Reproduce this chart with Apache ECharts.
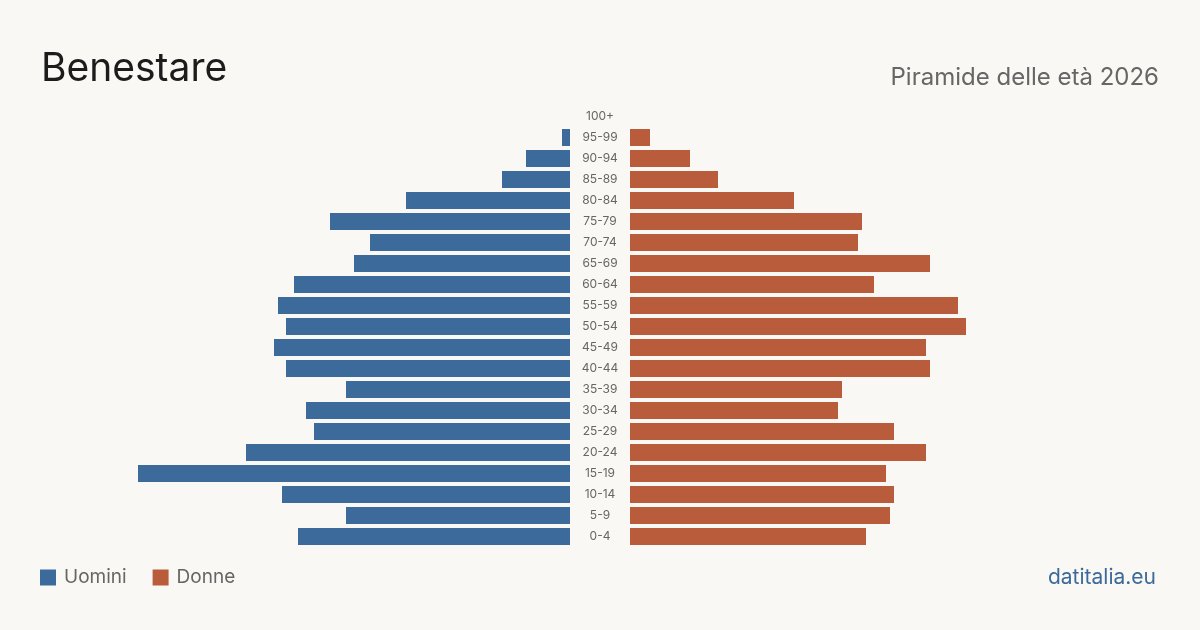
<!DOCTYPE html>
<html>
<head>
<meta charset="utf-8">
<script src="https://cdn.jsdelivr.net/npm/echarts@6/dist/echarts.min.js"></script>
<style>
  html, body { margin: 0; padding: 0; background: #f9f8f4; }
  #main { width: 1200px; height: 630px; }
</style>
</head>
<body>
<div id="main"></div>
<script>
// fasce d'età, dall'alto verso il basso
var ages = ['100+', '95-99', '90-94', '85-89', '80-84', '75-79', '70-74', '65-69', '60-64', '55-59',
  '50-54', '45-49', '40-44', '35-39', '30-34', '25-29', '20-24', '15-19', '10-14', '5-9', '0-4'];
var uomini = [0, 2, 11, 17, 41, 60, 50, 54, 69, 73, 71, 74, 71, 56, 66, 64, 81, 108, 72, 56, 68];
var donne = [0, 5, 15, 22, 41, 58, 57, 75, 61, 82, 84, 74, 75, 53, 52, 66, 74, 64, 66, 65, 59];
var maxVal = 110;

var blu = '#3c6b9b';
var rosso = '#b95c3c';
var font = 'Inter, "Noto Sans", sans-serif';

var myChart = echarts.init(document.getElementById('main'));
var option = {
  backgroundColor: '#f9f8f4',
  textStyle: { fontFamily: font },
  title: [
    {
      text: 'Benestare',
      left: 36,
      top: 45,
      textStyle: { fontSize: 39, fontWeight: 'normal', color: '#1c1c1c', fontFamily: font }
    },
    {
      text: 'Piramide delle età 2026',
      right: 36,
      top: 61,
      textStyle: { fontSize: 24, fontWeight: 'normal', color: '#666', fontFamily: font }
    },
    {
      text: 'datitalia.eu',
      right: 39,
      top: 562,
      textStyle: { fontSize: 21, fontWeight: 'normal', color: blu, fontFamily: font }
    }
  ],
  legend: {
    left: 35,
    top: 563,
    itemWidth: 16,
    itemHeight: 16,
    itemGap: 26,
    icon: 'rect',
    textStyle: { fontSize: 19, color: '#666', fontFamily: font, padding: [0, 0, 0, 3] },
    data: ['Uomini', 'Donne']
  },
  grid: [
    { left: 570 - 440, width: 440, top: 106, height: 441 },
    { left: 630, width: 440, top: 106, height: 441 }
  ],
  xAxis: [
    { gridIndex: 0, type: 'value', min: 0, max: maxVal, inverse: true, show: false },
    { gridIndex: 1, type: 'value', min: 0, max: maxVal, show: false }
  ],
  yAxis: [
    {
      gridIndex: 0, type: 'category', data: ages, inverse: true, position: 'right',
      axisLine: { show: false }, axisTick: { show: false }, axisLabel: { show: false }
    },
    {
      gridIndex: 1, type: 'category', data: ages, inverse: true, position: 'left',
      axisLine: { show: false }, axisTick: { show: false },
      axisLabel: { align: 'center', margin: 30, fontSize: 12, color: '#666', fontFamily: font }
    }
  ],
  series: [
    {
      name: 'Uomini', type: 'bar', xAxisIndex: 0, yAxisIndex: 0,
      barWidth: 17, itemStyle: { color: blu }, data: uomini, silent: true
    },
    {
      name: 'Donne', type: 'bar', xAxisIndex: 1, yAxisIndex: 1,
      barWidth: 17, itemStyle: { color: rosso }, data: donne, silent: true
    }
  ]
};
myChart.setOption(option);
</script>
</body>
</html>
